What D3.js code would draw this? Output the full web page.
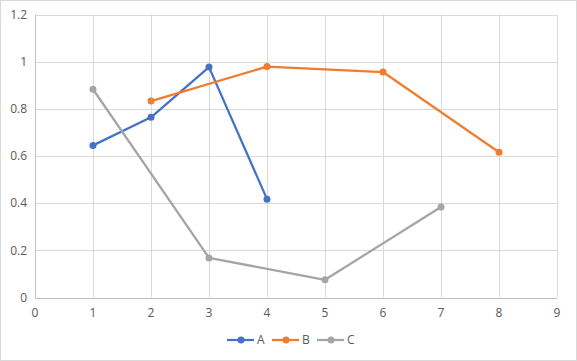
<!DOCTYPE html>
<html><head><meta charset="utf-8">
<script src="https://cdn.jsdelivr.net/npm/d3@7"></script>
<style>
html,body{margin:0;padding:0;background:#fff;}
svg{display:block;font-family:"Open Sans","Liberation Sans",sans-serif;}
</style></head>
<body><svg id="c" width="577" height="361"></svg>
<script>
const seriesNames = ["A","B","C"];
const colors = ["#4472C4","#ED7D31","#A5A5A5"];
const xA = [1,2,3,4];
const yA = [0.645,0.764,0.977,0.417];
const xB = [2,4,6,8];
const yB = [0.833,0.979,0.956,0.616];
const xC = [1,3,5,7];
const yC = [0.883,0.168,0.075,0.384];
const xTicks = [0,1,2,3,4,5,6,7,8,9];
const yTicks = [0,0.2,0.4,0.6,0.8,1,1.2];

const series = [
  {name:seriesNames[0], xs:xA, ys:yA, color:colors[0]},
  {name:seriesNames[1], xs:xB, ys:yB, color:colors[1]},
  {name:seriesNames[2], xs:xC, ys:yC, color:colors[2]}
];

const svg = d3.select("#c");
svg.append("rect").attr("x",0.5).attr("y",0.5).attr("width",576).attr("height",360)
  .attr("fill","#fff").attr("stroke","#D9D9D9");

const x = d3.scaleLinear().domain([0,9]).range([35,557]);
const y = d3.scaleLinear().domain([0,1.2]).range([297.5,14.5]);

// gridlines
svg.append("g").selectAll("line").data(yTicks.filter(d=>d>0)).join("line")
  .attr("x1",x(0)).attr("x2",x(9)).attr("y1",d=>Math.round(y(d))+0.5).attr("y2",d=>Math.round(y(d))+0.5)
  .attr("stroke","#D9D9D9").attr("stroke-width",1);
svg.append("g").selectAll("line").data(xTicks.filter(d=>d>0)).join("line")
  .attr("x1",d=>Math.round(x(d))+0.5).attr("x2",d=>Math.round(x(d))+0.5).attr("y1",y(0)).attr("y2",y(1.2))
  .attr("stroke","#D9D9D9").attr("stroke-width",1);

// axes lines
svg.append("line").attr("x1",x(0)).attr("x2",x(9)).attr("y1",Math.round(y(0))+0.5).attr("y2",Math.round(y(0))+0.5)
  .attr("stroke","#BFBFBF");
svg.append("line").attr("x1",Math.round(x(0))+0.5).attr("x2",Math.round(x(0))+0.5).attr("y1",y(0)).attr("y2",y(1.2))
  .attr("stroke","#BFBFBF");

// tick labels
svg.append("g").selectAll("text").data(yTicks).join("text")
  .attr("x",27).attr("y",d=>y(d)).attr("dy","0.35em").attr("text-anchor","end")
  .attr("font-size",12).attr("fill","#595959").text(d=>String(d));
svg.append("g").selectAll("text").data(xTicks).join("text")
  .attr("x",d=>x(d)).attr("y",313).attr("dy","0.35em").attr("text-anchor","middle")
  .attr("font-size",12).attr("fill","#595959").text(d=>String(d));

// series
const line = d3.line().x(d=>x(d[0])).y(d=>y(d[1]));
series.forEach(s=>{
  const pts = s.xs.map((v,i)=>[v,s.ys[i]]);
  svg.append("path").attr("d",line(pts)).attr("fill","none").attr("stroke",s.color)
    .attr("stroke-width",2.25).attr("stroke-linejoin","round").attr("stroke-linecap","round");
  svg.append("g").selectAll("circle").data(pts).join("circle")
    .attr("cx",d=>x(d[0])).attr("cy",d=>y(d[1])).attr("r",3.5).attr("fill",s.color);
});

// legend
const legX = [227,272,317];
series.forEach((s,i)=>{
  const g = svg.append("g").attr("transform",`translate(${legX[i]},340)`);
  g.append("line").attr("x1",0).attr("x2",27).attr("y1",0).attr("y2",0).attr("stroke",s.color).attr("stroke-width",2.25);
  g.append("circle").attr("cx",14).attr("cy",0).attr("r",3.5).attr("fill",s.color);
  g.append("text").attr("x",30).attr("y",0).attr("dy","0.35em").attr("font-size",12).attr("fill","#595959").text(s.name);
});
</script></body></html>
